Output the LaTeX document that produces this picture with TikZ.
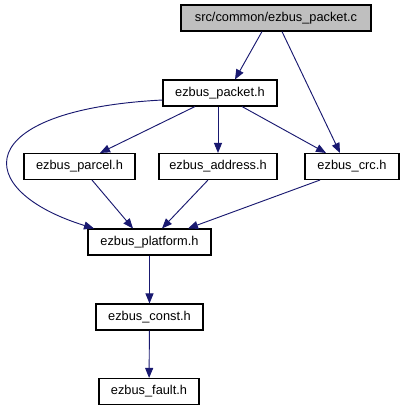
\documentclass[tikz,border=0pt]{standalone}
\usepackage{fontspec}
\setmainfont{Liberation Sans}
\usetikzlibrary{arrows.meta}
\definecolor{edgeblue}{HTML}{191970}
\definecolor{rootgray}{HTML}{BFBFBF}

\begin{document}
\begin{tikzpicture}[x=0.75pt, y=-0.75pt,
  file/.style={draw=black, line width=0.8pt, fill=white, inner xsep=0pt, minimum height=19.5pt, font=\fontsize{9.6}{11}\selectfont},
  dep/.style={-{Triangle[length=7.5pt,width=6pt]}, edgeblue, line width=0.7pt}]
 \useasboundingbox (0,0) rectangle (404,411);
 % files
 \node[file, fill=rootgray, minimum width=142.5pt] (root) at (276,18) {src/common/ezbus\_packet.c};
 \node[file, minimum width=85.5pt] (packet) at (220,93) {ezbus\_packet.h};
 \node[file, minimum width=83.25pt] (parcel) at (79.5,166.5) {ezbus\_parcel.h};
 \node[file, minimum width=88.5pt] (address) at (218,166.5) {ezbus\_address.h};
 \node[file, minimum width=70.5pt] (crc) at (352,166.5) {ezbus\_crc.h};
 \node[file, minimum width=92.25pt] (platform) at (149.5,242) {ezbus\_platform.h};
 \node[file, minimum width=80.25pt] (const) at (149.5,317) {ezbus\_const.h};
 \node[file, minimum width=75pt] (fault) at (149,391.5) {ezbus\_fault.h};
 % includes
 \draw[dep] (root.south -| 262,0) -- (packet.north -| 235,0);
 \draw[dep] (root.south -| 282,0) -- (crc.north -| 340,0);
 \draw[dep] (packet.south -| 195,0) -- (parcel.north -| 100,0);
 \draw[dep] (packet.south -| 218,0) -- (address.north -| 218,0);
 \draw[dep] (packet.south -| 242,0) -- (crc.north -| 326,0);
 \draw[dep] (packet.west |- 0,100) .. controls (-30,110) and (-30,190) .. (platform.north -| 94,0);
 \draw[dep] (parcel.south -| 92,0) -- (platform.north -| 133,0);
 \draw[dep] (address.south -| 208,0) -- (platform.north -| 162,0);
 \draw[dep] (crc.south -| 320,0) -- (platform.north -| 188,0);
 \draw[dep] (platform) -- (const);
 \draw[dep] (const) -- (fault);
\end{tikzpicture}
\end{document}
